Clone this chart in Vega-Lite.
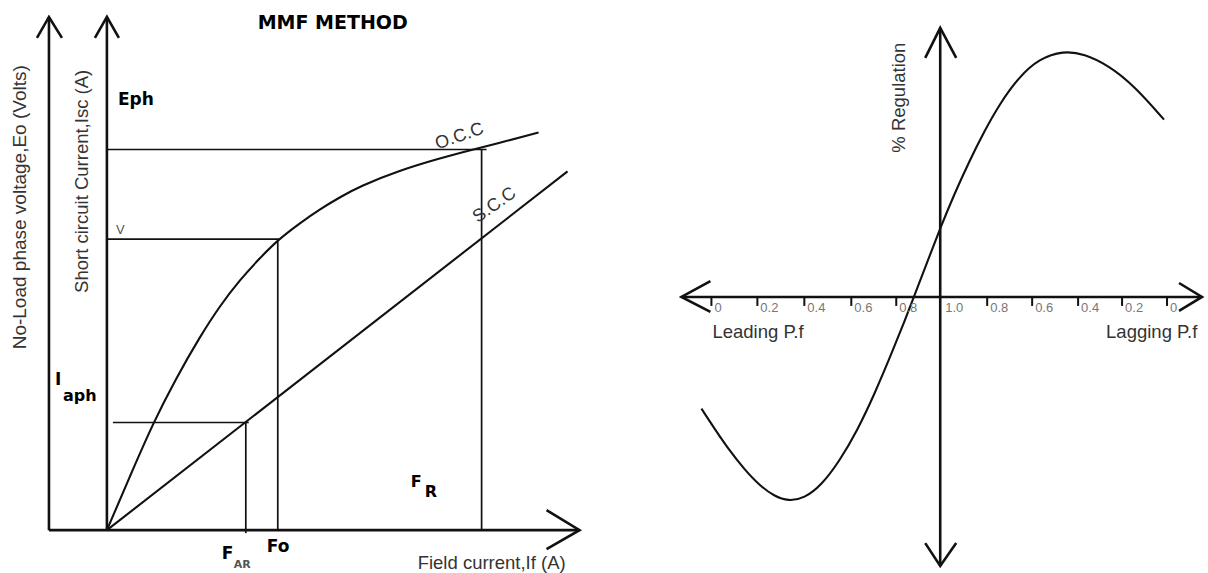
{
  "$schema": "https://vega.github.io/schema/vega-lite/v6.json",
  "width": 1208,
  "height": 573,
  "autosize": {"type": "fit", "contains": "padding"},
  "padding": 0,
  "background": "white",
  "config": {"view": {"stroke": null}},
  "datasets": {
    "lines": [
      {"id": "a1", "k": "axis", "i": 0, "x": 49, "y": 532},
      {"id": "a1", "k": "axis", "i": 1, "x": 49, "y": 17},
      {"id": "a1h", "k": "axis", "i": 0, "x": 37, "y": 38},
      {"id": "a1h", "k": "axis", "i": 1, "x": 49, "y": 17},
      {"id": "a1h", "k": "axis", "i": 2, "x": 62, "y": 38},
      {"id": "a2", "k": "axis", "i": 0, "x": 107, "y": 532},
      {"id": "a2", "k": "axis", "i": 1, "x": 107, "y": 17},
      {"id": "a2h", "k": "axis", "i": 0, "x": 95, "y": 38},
      {"id": "a2h", "k": "axis", "i": 1, "x": 107, "y": 17},
      {"id": "a2h", "k": "axis", "i": 2, "x": 119, "y": 38},
      {"id": "a3", "k": "axis", "i": 0, "x": 49, "y": 532},
      {"id": "a3", "k": "axis", "i": 1, "x": 580, "y": 532},
      {"id": "a3h", "k": "axis", "i": 0, "x": 547, "y": 512},
      {"id": "a3h", "k": "axis", "i": 1, "x": 580, "y": 532},
      {"id": "a3h", "k": "axis", "i": 2, "x": 547, "y": 551},
      {"id": "b1", "k": "axis", "i": 0, "x": 682, "y": 298},
      {"id": "b1", "k": "axis", "i": 1, "x": 1203, "y": 298},
      {"id": "b1l", "k": "axis", "i": 0, "x": 711, "y": 282},
      {"id": "b1l", "k": "axis", "i": 1, "x": 682, "y": 298},
      {"id": "b1l", "k": "axis", "i": 2, "x": 711, "y": 313},
      {"id": "b1r", "k": "axis", "i": 0, "x": 1180, "y": 284},
      {"id": "b1r", "k": "axis", "i": 1, "x": 1203, "y": 298},
      {"id": "b1r", "k": "axis", "i": 2, "x": 1180, "y": 312},
      {"id": "b2", "k": "axis", "i": 0, "x": 941, "y": 28},
      {"id": "b2", "k": "axis", "i": 1, "x": 941, "y": 568},
      {"id": "b2t", "k": "axis", "i": 0, "x": 926, "y": 58},
      {"id": "b2t", "k": "axis", "i": 1, "x": 941, "y": 28},
      {"id": "b2t", "k": "axis", "i": 2, "x": 957, "y": 58},
      {"id": "b2b", "k": "axis", "i": 0, "x": 926, "y": 545},
      {"id": "b2b", "k": "axis", "i": 1, "x": 941, "y": 568},
      {"id": "b2b", "k": "axis", "i": 2, "x": 957, "y": 545},
      {"id": "t1", "k": "tick", "i": 0, "x": 712, "y": 298},
      {"id": "t1", "k": "tick", "i": 1, "x": 712, "y": 307},
      {"id": "t2", "k": "tick", "i": 0, "x": 758, "y": 298},
      {"id": "t2", "k": "tick", "i": 1, "x": 758, "y": 307},
      {"id": "t3", "k": "tick", "i": 0, "x": 805, "y": 298},
      {"id": "t3", "k": "tick", "i": 1, "x": 805, "y": 307},
      {"id": "t4", "k": "tick", "i": 0, "x": 852, "y": 298},
      {"id": "t4", "k": "tick", "i": 1, "x": 852, "y": 307},
      {"id": "t5", "k": "tick", "i": 0, "x": 897, "y": 298},
      {"id": "t5", "k": "tick", "i": 1, "x": 897, "y": 307},
      {"id": "t6", "k": "tick", "i": 0, "x": 988, "y": 298},
      {"id": "t6", "k": "tick", "i": 1, "x": 988, "y": 307},
      {"id": "t7", "k": "tick", "i": 0, "x": 1033, "y": 298},
      {"id": "t7", "k": "tick", "i": 1, "x": 1033, "y": 307},
      {"id": "t8", "k": "tick", "i": 0, "x": 1079, "y": 298},
      {"id": "t8", "k": "tick", "i": 1, "x": 1079, "y": 307},
      {"id": "t9", "k": "tick", "i": 0, "x": 1123, "y": 298},
      {"id": "t9", "k": "tick", "i": 1, "x": 1123, "y": 307},
      {"id": "t10", "k": "tick", "i": 0, "x": 1168, "y": 298},
      {"id": "t10", "k": "tick", "i": 1, "x": 1168, "y": 307},
      {"id": "g1", "k": "guide", "i": 0, "x": 107, "y": 150},
      {"id": "g1", "k": "guide", "i": 1, "x": 487, "y": 150},
      {"id": "g2", "k": "guide", "i": 0, "x": 482, "y": 150},
      {"id": "g2", "k": "guide", "i": 1, "x": 482, "y": 532},
      {"id": "g3", "k": "guide", "i": 0, "x": 107, "y": 240},
      {"id": "g3", "k": "guide", "i": 1, "x": 280, "y": 240},
      {"id": "g4", "k": "guide", "i": 0, "x": 278, "y": 240},
      {"id": "g4", "k": "guide", "i": 1, "x": 278, "y": 532},
      {"id": "g5", "k": "guide", "i": 0, "x": 113, "y": 424},
      {"id": "g5", "k": "guide", "i": 1, "x": 249, "y": 424},
      {"id": "g6", "k": "guide", "i": 0, "x": 246, "y": 424},
      {"id": "g6", "k": "guide", "i": 1, "x": 246, "y": 535},
      {"id": "occ", "k": "curve", "i": 0, "x": 107, "y": 532},
      {"id": "occ", "k": "curve", "i": 1, "x": 130, "y": 478},
      {"id": "occ", "k": "curve", "i": 2, "x": 153, "y": 425},
      {"id": "occ", "k": "curve", "i": 3, "x": 176, "y": 380},
      {"id": "occ", "k": "curve", "i": 4, "x": 200, "y": 338},
      {"id": "occ", "k": "curve", "i": 5, "x": 220, "y": 307},
      {"id": "occ", "k": "curve", "i": 6, "x": 240, "y": 281},
      {"id": "occ", "k": "curve", "i": 7, "x": 260, "y": 259},
      {"id": "occ", "k": "curve", "i": 8, "x": 279, "y": 240},
      {"id": "occ", "k": "curve", "i": 9, "x": 300, "y": 224},
      {"id": "occ", "k": "curve", "i": 10, "x": 320, "y": 210},
      {"id": "occ", "k": "curve", "i": 11, "x": 340, "y": 198},
      {"id": "occ", "k": "curve", "i": 12, "x": 360, "y": 187},
      {"id": "occ", "k": "curve", "i": 13, "x": 400, "y": 171},
      {"id": "occ", "k": "curve", "i": 14, "x": 440, "y": 159},
      {"id": "occ", "k": "curve", "i": 15, "x": 470, "y": 151},
      {"id": "occ", "k": "curve", "i": 16, "x": 505, "y": 142},
      {"id": "occ", "k": "curve", "i": 17, "x": 539, "y": 133},
      {"id": "scc", "k": "curve", "i": 0, "x": 107, "y": 532},
      {"id": "scc", "k": "curve", "i": 1, "x": 568, "y": 172},
      {"id": "reg", "k": "curve", "i": 0, "x": 702, "y": 410},
      {"id": "reg", "k": "curve", "i": 1, "x": 715, "y": 430},
      {"id": "reg", "k": "curve", "i": 2, "x": 730, "y": 452},
      {"id": "reg", "k": "curve", "i": 3, "x": 745, "y": 471},
      {"id": "reg", "k": "curve", "i": 4, "x": 760, "y": 487},
      {"id": "reg", "k": "curve", "i": 5, "x": 775, "y": 498},
      {"id": "reg", "k": "curve", "i": 6, "x": 789, "y": 503},
      {"id": "reg", "k": "curve", "i": 7, "x": 805, "y": 500},
      {"id": "reg", "k": "curve", "i": 8, "x": 822, "y": 487},
      {"id": "reg", "k": "curve", "i": 9, "x": 840, "y": 463},
      {"id": "reg", "k": "curve", "i": 10, "x": 858, "y": 432},
      {"id": "reg", "k": "curve", "i": 11, "x": 875, "y": 396},
      {"id": "reg", "k": "curve", "i": 12, "x": 893, "y": 353},
      {"id": "reg", "k": "curve", "i": 13, "x": 905, "y": 323},
      {"id": "reg", "k": "curve", "i": 14, "x": 915, "y": 297},
      {"id": "reg", "k": "curve", "i": 15, "x": 928, "y": 263},
      {"id": "reg", "k": "curve", "i": 16, "x": 941, "y": 229},
      {"id": "reg", "k": "curve", "i": 17, "x": 955, "y": 195},
      {"id": "reg", "k": "curve", "i": 18, "x": 970, "y": 162},
      {"id": "reg", "k": "curve", "i": 19, "x": 985, "y": 132},
      {"id": "reg", "k": "curve", "i": 20, "x": 1000, "y": 105},
      {"id": "reg", "k": "curve", "i": 21, "x": 1020, "y": 77},
      {"id": "reg", "k": "curve", "i": 22, "x": 1040, "y": 59},
      {"id": "reg", "k": "curve", "i": 23, "x": 1064, "y": 51},
      {"id": "reg", "k": "curve", "i": 24, "x": 1085, "y": 54},
      {"id": "reg", "k": "curve", "i": 25, "x": 1110, "y": 66},
      {"id": "reg", "k": "curve", "i": 26, "x": 1135, "y": 86},
      {"id": "reg", "k": "curve", "i": 27, "x": 1165, "y": 120}
    ],
    "labels": [
      {"t": "MMF METHOD", "k": "title", "x": 333, "y": 23},
      {"t": "Eph", "k": "b17", "x": 118, "y": 100},
      {"t": "I", "k": "b17", "x": 55, "y": 381},
      {"t": "aph", "k": "b16", "x": 63, "y": 397},
      {"t": "F", "k": "b17", "x": 222, "y": 556},
      {"t": "AR", "k": "b11", "x": 234, "y": 567},
      {"t": "Fo", "k": "b17", "x": 267, "y": 549},
      {"t": "F", "k": "b16", "x": 411, "y": 484},
      {"t": "R", "k": "b16", "x": 425, "y": 494},
      {"t": "V", "k": "g13", "x": 116, "y": 231},
      {"t": "Field current,If (A)", "k": "g18", "x": 418, "y": 565},
      {"t": "Leading P.f", "k": "g18", "x": 713, "y": 333},
      {"t": "Lagging P.f", "k": "g18", "x": 1107, "y": 333},
      {"t": "No-Load phase voltage,Eo (Volts)", "k": "rot19", "x": 20, "y": 208},
      {"t": "Short circuit Current,Isc (A)", "k": "rot", "x": 82, "y": 182},
      {"t": "% Regulation", "k": "rot", "x": 900, "y": 98},
      {"t": "O.C.C", "k": "occ", "x": 460, "y": 137},
      {"t": "S.C.C", "k": "scc", "x": 495, "y": 206},
      {"t": "0", "k": "tick", "x": 715, "y": 309},
      {"t": "0.2", "k": "tick", "x": 761, "y": 309},
      {"t": "0.4", "k": "tick", "x": 808, "y": 309},
      {"t": "0.6", "k": "tick", "x": 855, "y": 309},
      {"t": "0.8", "k": "tick", "x": 900, "y": 309},
      {"t": "1.0", "k": "tick", "x": 946, "y": 309},
      {"t": "0.8", "k": "tick", "x": 991, "y": 309},
      {"t": "0.6", "k": "tick", "x": 1036, "y": 309},
      {"t": "0.4", "k": "tick", "x": 1082, "y": 309},
      {"t": "0.2", "k": "tick", "x": 1126, "y": 309},
      {"t": "0", "k": "tick", "x": 1171, "y": 309}
    ]
  },
  "encoding": {
    "x": {"field": "x", "type": "quantitative", "axis": null, "scale": {"domain": [0, 1208], "nice": false, "zero": false}},
    "y": {"field": "y", "type": "quantitative", "axis": null, "scale": {"domain": [0, 573], "nice": false, "zero": false, "reverse": true}}
  },
  "layer": [
    {
      "data": {"name": "lines"},
      "transform": [{"filter": "datum.k === 'guide'"}],
      "mark": {"type": "line", "color": "#111111", "strokeWidth": 1.7},
      "encoding": {"detail": {"field": "id"}, "order": {"field": "i", "type": "quantitative"}}
    },
    {
      "data": {"name": "lines"},
      "transform": [{"filter": "datum.k === 'tick'"}],
      "mark": {"type": "line", "color": "#111111", "strokeWidth": 2},
      "encoding": {"detail": {"field": "id"}, "order": {"field": "i", "type": "quantitative"}}
    },
    {
      "data": {"name": "lines"},
      "transform": [{"filter": "datum.k === 'curve'"}],
      "mark": {"type": "line", "color": "#111111", "strokeWidth": 2.1, "interpolate": "basis"},
      "encoding": {"detail": {"field": "id"}, "order": {"field": "i", "type": "quantitative"}}
    },
    {
      "data": {"name": "lines"},
      "transform": [{"filter": "datum.k === 'axis'"}],
      "mark": {"type": "line", "color": "#111111", "strokeWidth": 2.6, "strokeJoin": "miter"},
      "encoding": {"detail": {"field": "id"}, "order": {"field": "i", "type": "quantitative"}}
    },
    {
      "data": {"name": "labels"},
      "transform": [{"filter": "datum.k === 'title'"}],
      "mark": {"type": "text", "font": "DejaVu Sans", "fontWeight": "bold", "fontSize": 19, "align": "center", "baseline": "middle", "color": "#000000"},
      "encoding": {"text": {"field": "t"}}
    },
    {
      "data": {"name": "labels"},
      "transform": [{"filter": "datum.k === 'b17'"}],
      "mark": {"type": "text", "font": "DejaVu Sans", "fontWeight": "bold", "fontSize": 17, "align": "left", "baseline": "middle", "color": "#000000"},
      "encoding": {"text": {"field": "t"}}
    },
    {
      "data": {"name": "labels"},
      "transform": [{"filter": "datum.k === 'b16'"}],
      "mark": {"type": "text", "font": "DejaVu Sans", "fontWeight": "bold", "fontSize": 16, "align": "left", "baseline": "middle", "color": "#000000"},
      "encoding": {"text": {"field": "t"}}
    },
    {
      "data": {"name": "labels"},
      "transform": [{"filter": "datum.k === 'b11'"}],
      "mark": {"type": "text", "font": "DejaVu Sans", "fontWeight": "bold", "fontSize": 11, "align": "left", "baseline": "middle", "color": "#555555"},
      "encoding": {"text": {"field": "t"}}
    },
    {
      "data": {"name": "labels"},
      "transform": [{"filter": "datum.k === 'g13'"}],
      "mark": {"type": "text", "font": "Liberation Sans", "fontSize": 13, "align": "left", "baseline": "middle", "color": "#555555"},
      "encoding": {"text": {"field": "t"}}
    },
    {
      "data": {"name": "labels"},
      "transform": [{"filter": "datum.k === 'g18'"}],
      "mark": {"type": "text", "font": "Liberation Sans", "fontSize": 18.5, "align": "left", "baseline": "middle", "color": "#333333"},
      "encoding": {"text": {"field": "t"}}
    },
    {
      "data": {"name": "labels"},
      "transform": [{"filter": "datum.k === 'rot'"}],
      "mark": {"type": "text", "font": "Liberation Sans", "fontSize": 18.5, "align": "center", "baseline": "middle", "angle": 270, "color": "#333333"},
      "encoding": {"text": {"field": "t"}}
    },
    {
      "data": {"name": "labels"},
      "transform": [{"filter": "datum.k === 'rot19'"}],
      "mark": {"type": "text", "font": "Liberation Sans", "fontSize": 19, "align": "center", "baseline": "middle", "angle": 270, "color": "#333333"},
      "encoding": {"text": {"field": "t"}}
    },
    {
      "data": {"name": "labels"},
      "transform": [{"filter": "datum.k === 'occ'"}],
      "mark": {"type": "text", "font": "Liberation Sans", "fontSize": 18, "align": "center", "baseline": "middle", "angle": 341, "color": "#333333"},
      "encoding": {"text": {"field": "t"}}
    },
    {
      "data": {"name": "labels"},
      "transform": [{"filter": "datum.k === 'scc'"}],
      "mark": {"type": "text", "font": "Liberation Sans", "fontSize": 18, "align": "center", "baseline": "middle", "angle": 325, "color": "#333333"},
      "encoding": {"text": {"field": "t"}}
    },
    {
      "data": {"name": "labels"},
      "transform": [{"filter": "datum.k === 'tick'"}],
      "mark": {"type": "text", "font": "Liberation Sans", "fontSize": 13, "align": "left", "baseline": "middle", "color": "#777777"},
      "encoding": {"text": {"field": "t"}}
    }
  ]
}
